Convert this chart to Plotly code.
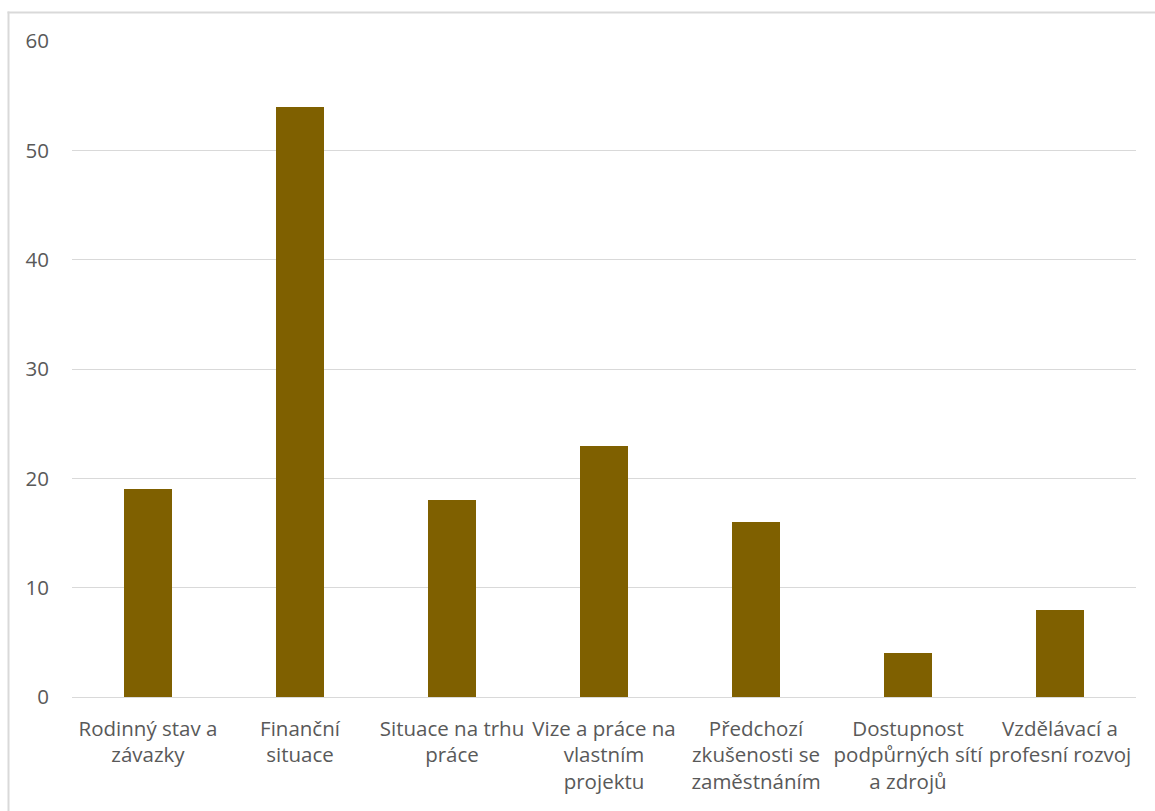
import plotly.graph_objects as go

categories = [
    "Rodinný stav a<br>závazky",
    "Finanční<br>situace",
    "Situace na trhu<br>práce",
    "Vize a práce na<br>vlastním<br>projektu",
    "Předchozí<br>zkušenosti se<br>zaměstnáním",
    "Dostupnost<br>podpůrných sítí<br>a zdrojů",
    "Vzdělávací a<br>profesní rozvoj",
]
values = [19, 54, 18, 23, 16, 4, 8]
y_ticks = [0, 10, 20, 30, 40, 50, 60]

W, H = 1155, 811
L, R, T, B = 72, 19, 41, 114
pw, ph = W - L - R, H - T - B


def px_x(p):
    return (p - L) / pw


def px_y(p):
    return 1 - (p - T) / ph


fig = go.Figure(go.Bar(
    x=categories, y=values,
    marker=dict(color="#7F6000", line=dict(width=0)),
    width=0.316,
))

font = dict(family="Open Sans, Noto Sans, sans-serif", size=20.5, color="#595959")

border = "#D9D9D9"

fig.update_layout(
    width=W, height=H,
    margin=dict(l=L, r=R, t=T, b=B),
    paper_bgcolor="white", plot_bgcolor="white",
    showlegend=False,
    font=font,
    bargap=0,
    xaxis=dict(showgrid=False, showline=False, zeroline=False, ticks="",
               tickfont=font, tickangle=0, automargin=False, ticklabelstandoff=17),
    yaxis=dict(range=[0, 60], tickvals=y_ticks, showgrid=True, gridcolor="#D9D9D9",
               gridwidth=1.3, zeroline=True, zerolinecolor="#D9D9D9", zerolinewidth=1.3,
               showline=False, ticks="", tickfont=font, ticklabelstandoff=22,
               automargin=False),
    shapes=[
        dict(type="rect", xref="paper", yref="paper",
             x0=px_x(7.5), x1=px_x(W), y0=px_y(13.5), y1=px_y(11.5),
             fillcolor=border, line=dict(width=0)),
        dict(type="rect", xref="paper", yref="paper",
             x0=px_x(7.5), x1=px_x(9.5), y0=px_y(H), y1=px_y(11.5),
             fillcolor=border, line=dict(width=0)),
    ],
)

fig.write_html("out.html")
